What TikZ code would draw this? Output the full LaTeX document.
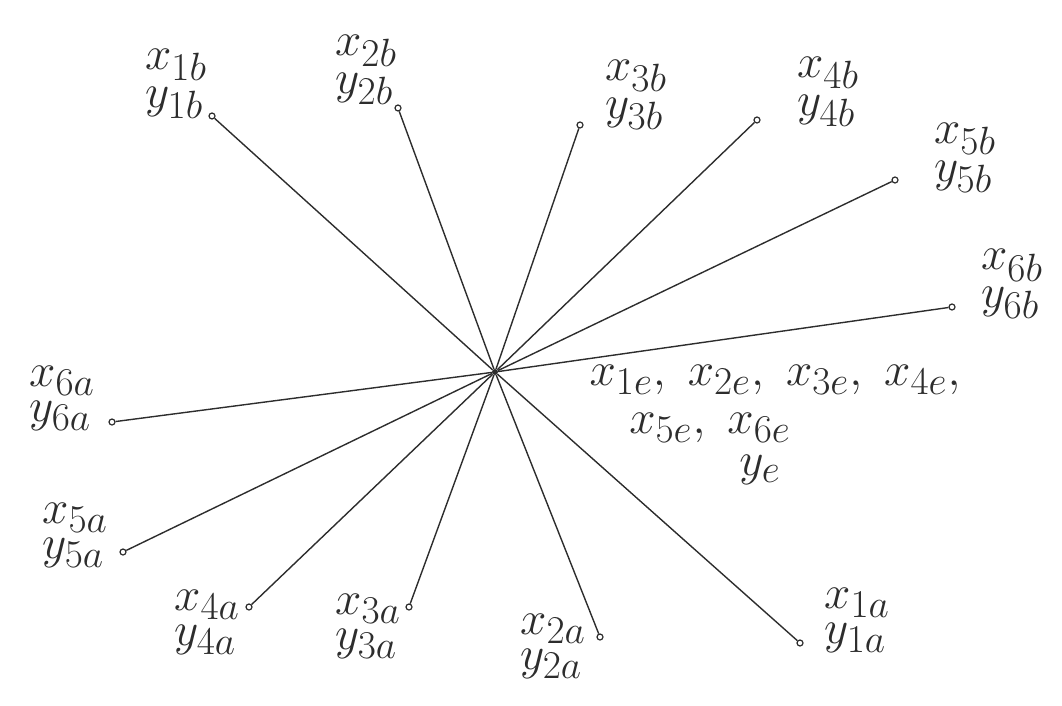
\documentclass[tikz,border=0pt]{standalone}
\usepackage{tikz}
\usetikzlibrary{positioning}
\definecolor{ink}{RGB}{45,45,45}
\newcommand{\hw}[1]{\scalebox{1.9}{$#1$}}
\tikzset{
  ray/.style={draw=ink,line width=1.4pt},
  tip/.style={circle,draw=ink,fill=white,line width=1.2pt,inner sep=0pt,minimum size=6pt},
  hub/.style={circle,fill=ink,inner sep=0pt,minimum size=6pt},
  lbl/.style={text=ink,align=left,inner sep=1pt,font=\Huge},
}
\begin{document}
\begin{tikzpicture}[x=1pt,y=-1pt]
    \useasboundingbox (0,0) rectangle (1062,706);
    \node[hub] (c) at (495,372) {};
    % end points, labels
    \foreach \px/\py/\lx/\ly/\s [count=\k] in {
      212/116/176/84/1b, 398/108/366/70/2b, 580/125/636/95/3b,
      757/120/828/92/4b, 895/180/965/158/5b, 952/307/1012/284/6b,
      112/422/62/398/6a, 123/552/75/535/5a, 249/607/207/622/4a,
      409/607/368/626/3a, 600/637/553/646/2a, 800/643/857/620/1a}
    {
      \node[tip] (e\k) at (\px,\py) {};
      \draw[ray] (c) -- (e\k);
      \node[lbl] (t\k) at (\lx,\ly) {\hw{x_{\s}}\\[5pt]\hw{y_{\s}}};
    }
    \node[lbl] (sx1) at (775,380) {\hw{x_{1e},\ x_{2e},\ x_{3e},\ x_{4e},}};
    \node[lbl] (sx2) at (710,428) {\hw{x_{5e},\ x_{6e}}};
    \node[lbl] (sy) at (760,470) {\hw{y_{e}}};
\end{tikzpicture}
\end{document}
